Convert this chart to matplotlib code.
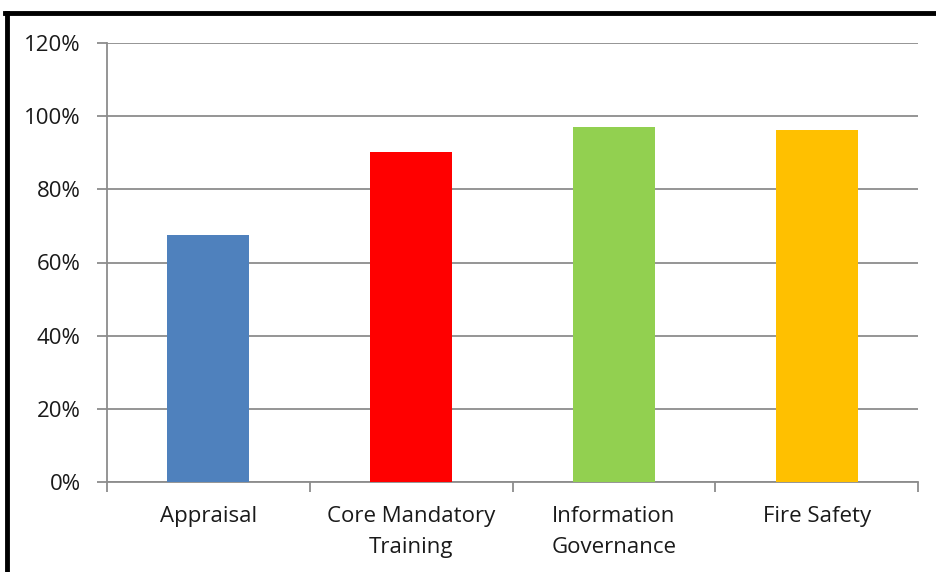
import matplotlib
matplotlib.use("Agg")
import matplotlib.pyplot as plt
from matplotlib.lines import Line2D
from matplotlib.ticker import FixedLocator, PercentFormatter

categories = ["Appraisal", "Core Mandatory\nTraining", "Information\nGovernance", "Fire Safety"]
values = [67.5, 90.2, 97.0, 96.2]
colors = ["#4F81BD", "#FF0000", "#92D050", "#FFC000"]
yticks = [0, 20, 40, 60, 80, 100, 120]

plt.rcParams['font.family'] = ['Open Sans', 'DejaVu Sans']

fig = plt.figure(figsize=(9.36, 5.72), dpi=100)
ax = fig.add_axes([107/936, 1-482/572, (918-107)/936, (482-43)/572])

x = list(range(len(categories)))
ax.bar(x, values, width=0.405, color=colors, zorder=3)
ax.set_xlim(-0.5, len(categories)-0.5)
ax.set_ylim(0, 120)
ax.set_yticks(yticks)
ax.yaxis.set_major_formatter(PercentFormatter(decimals=0))
ax.grid(axis='y', color='#8c8c8c', linewidth=1.3, zorder=0)
ax.set_xticks(x)
ax.set_xticklabels(categories, fontsize=16, color='#1a1a1a', linespacing=1.65)
ax.xaxis.set_minor_locator(FixedLocator([i - 0.5 for i in range(len(categories)+1)]))
ax.tick_params(axis='x', which='major', length=0, pad=17)
ax.tick_params(axis='x', which='minor', length=7, color='#8c8c8c', width=1.3)
ax.tick_params(axis='y', length=7, color='#8c8c8c', width=1.3, labelsize=16, labelcolor='#1a1a1a', pad=12)
for s in ['top', 'right']:
    ax.spines[s].set_visible(False)
for s in ['left', 'bottom']:
    ax.spines[s].set_color('#8c8c8c')
    ax.spines[s].set_linewidth(1.3)

# black frame lines
fig.add_artist(Line2D([5/936, 1.0], [1-13/572, 1-13/572], color='black', linewidth=3.5, transform=fig.transFigure))
fig.add_artist(Line2D([7/936, 7/936], [0, 1-13/572], color='black', linewidth=3.5, transform=fig.transFigure))

fig.savefig("out.png", dpi=100)
